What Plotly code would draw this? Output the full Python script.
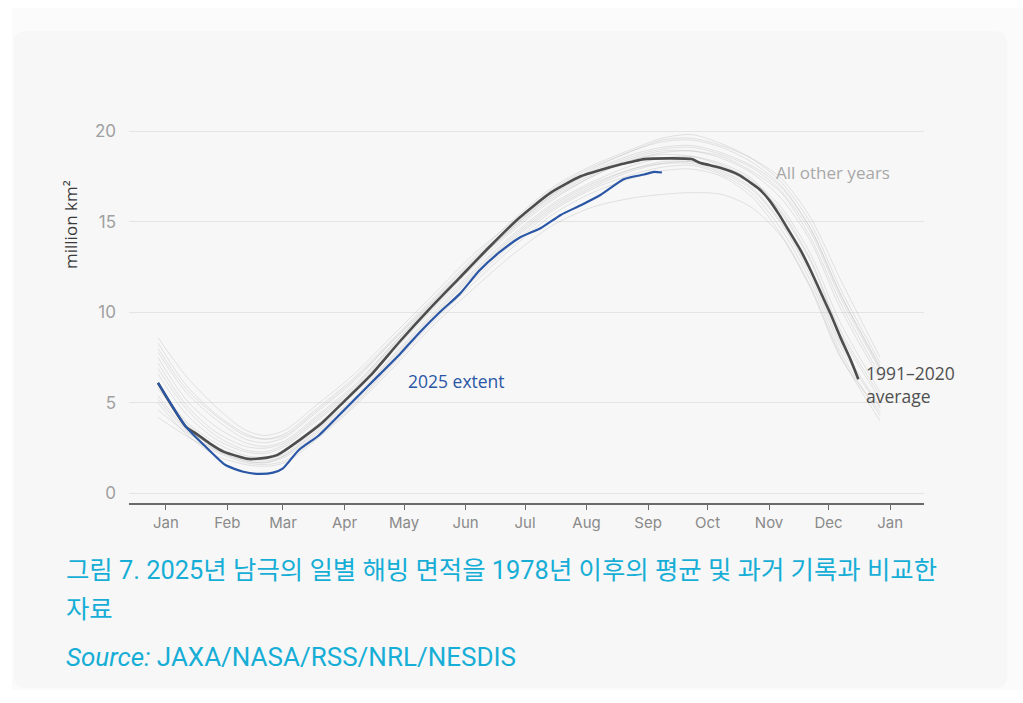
import plotly.graph_objects as go

# ---- data -------------------------------------------------------------
# Day-of-year sample points and extent in million km²
avg_days = [1, 15, 20, 27, 34, 42, 47, 51, 56, 61, 64, 73, 83, 95, 108, 123, 138, 153,
            168, 183, 199, 214, 224, 234, 240, 246, 270, 274, 279, 284, 294, 299, 304,
            309, 314, 319, 325, 330, 335, 340, 345, 350, 354]
avg_extent = [6.1, 3.69, 3.32, 2.77, 2.31, 2.03, 1.9, 1.92, 1.98, 2.12, 2.31, 3.0, 3.83,
              5.1, 6.5, 8.4, 10.2, 11.9, 13.6, 15.2, 16.6, 17.5, 17.85, 18.15, 18.3,
              18.45, 18.45, 18.25, 18.12, 17.98, 17.57, 17.2, 16.8, 16.2, 15.4, 14.5,
              13.4, 12.3, 11.1, 9.9, 8.6, 7.4, 6.3]

y2025_days = [1, 15, 25, 35, 44, 52, 59, 64, 72, 82, 93, 103, 113, 123, 133, 143, 153,
              163, 173, 183, 194, 204, 214, 224, 236, 246, 251, 255]
y2025_extent = [6.1, 3.69, 2.58, 1.57, 1.2, 1.08, 1.15, 1.39, 2.4, 3.2, 4.4, 5.5, 6.6,
                7.7, 8.9, 10.0, 11.0, 12.3, 13.3, 14.1, 14.65, 15.37, 15.9, 16.47,
                17.35, 17.6, 17.74, 17.71]

other_days = [1, 15, 30, 45, 55, 65, 80, 100, 120, 140, 160, 180, 200, 220, 240, 255,
              270, 285, 300, 315, 330, 345, 365]
other_years_extent = [
    [8.6, 6.5, 4.8, 3.5, 3.2, 3.5, 4.8, 6.6, 8.8, 11.0, 13.2, 15.0, 16.8, 18.0, 18.9, 19.5, 19.6, 19.2, 18.5, 17.4, 15.2, 11.8, 7.5],
    [7.8, 5.6, 4.1, 3.0, 2.8, 3.1, 4.4, 6.2, 8.5, 10.7, 12.9, 14.9, 16.6, 17.8, 18.7, 19.1, 19.2, 18.8, 18.1, 16.9, 14.6, 11.0, 6.9],
    [7.2, 4.9, 3.4, 2.6, 2.5, 2.8, 4.1, 5.9, 8.3, 10.5, 12.6, 14.7, 16.4, 17.6, 18.5, 18.9, 18.9, 18.5, 17.7, 16.3, 13.9, 10.2, 6.3],
    [6.6, 4.4, 3.0, 2.3, 2.2, 2.6, 3.9, 5.7, 8.1, 10.3, 12.5, 14.5, 16.2, 17.5, 18.4, 18.7, 18.6, 18.1, 17.3, 15.8, 13.2, 9.4, 5.6],
    [6.0, 4.0, 2.8, 2.1, 2.0, 2.4, 3.7, 5.5, 7.9, 10.2, 12.3, 14.3, 16.0, 17.2, 18.1, 18.5, 18.6, 18.2, 17.4, 15.5, 12.8, 8.8, 5.2],
    [5.4, 3.6, 2.5, 1.9, 1.8, 2.1, 3.4, 5.2, 7.6, 9.9, 12.1, 14.1, 15.8, 17.0, 17.9, 18.3, 18.3, 17.8, 16.9, 15.0, 12.2, 8.3, 4.8],
    [4.6, 3.4, 2.4, 1.8, 1.7, 2.0, 3.2, 5.0, 7.3, 9.7, 11.8, 13.8, 15.6, 16.8, 17.6, 18.0, 18.1, 17.6, 16.6, 14.6, 11.7, 7.8, 4.3],
    [4.2, 3.2, 2.3, 1.7, 1.6, 1.8, 3.0, 4.9, 7.2, 9.5, 11.6, 13.6, 15.4, 16.6, 17.4, 17.8, 17.9, 17.5, 16.4, 14.3, 11.4, 7.6, 4.0],
    [5.0, 3.3, 2.1, 1.6, 1.5, 1.7, 2.9, 4.8, 7.0, 9.3, 11.3, 13.2, 14.8, 15.8, 16.3, 16.5, 16.6, 16.5, 15.8, 14.2, 11.3, 7.5, 4.5],
    [6.9, 4.7, 3.2, 2.4, 2.3, 2.7, 4.0, 5.8, 8.2, 10.4, 12.7, 14.6, 16.3, 17.5, 18.4, 18.8, 18.9, 18.6, 17.8, 16.6, 14.1, 10.5, 6.5],
    [8.0, 5.8, 4.3, 3.2, 3.0, 3.3, 4.6, 6.4, 8.6, 10.8, 13.0, 15.1, 16.9, 18.1, 19.0, 19.6, 19.8, 19.3, 18.5, 17.2, 14.9, 11.3, 7.2],
    [5.8, 3.9, 2.6, 2.0, 1.9, 2.2, 3.5, 5.3, 7.7, 10.0, 12.2, 14.2, 15.9, 17.1, 17.9, 18.2, 18.2, 17.7, 16.8, 14.9, 12.0, 8.1, 4.7],
    [7.5, 5.2, 3.7, 2.8, 2.6, 2.9, 4.2, 6.0, 8.3, 10.6, 12.8, 14.8, 16.5, 17.7, 18.6, 19.0, 19.1, 18.7, 18.0, 16.7, 14.4, 10.8, 6.8],
    [5.2, 3.5, 2.4, 1.8, 1.7, 2.1, 3.3, 5.1, 7.5, 9.8, 12.0, 14.0, 15.7, 16.9, 17.8, 18.2, 18.3, 17.9, 17.1, 15.6, 12.9, 9.0, 5.4],
    [8.3, 6.0, 4.4, 3.3, 3.0, 3.2, 4.5, 6.3, 8.5, 10.6, 12.7, 14.7, 16.5, 17.9, 18.9, 19.4, 19.5, 19.1, 18.3, 17.0, 14.6, 11.0, 7.0],
]

month_labels = ["Jan", "Feb", "Mar", "Apr", "May", "Jun", "Jul", "Aug", "Sep", "Oct",
                "Nov", "Dec", "Jan"]
month_tick_days = [5, 36, 64, 95, 125, 156, 186, 217, 248, 278, 309, 339, 370]
y_ticks = [0, 5, 10, 15, 20]

# ---- layout geometry --------------------------------------------------
W, H = 1023, 703
ML, MR, MT, MB = 129, 99, 120, 200


def pxx(p):
    return (p - ML) / (W - ML - MR)


def pxy(p):
    return (H - MB - p) / (H - MT - MB)


fig = go.Figure()

for ext in other_years_extent:
    fig.add_trace(go.Scatter(
        x=other_days, y=ext, mode="lines",
        line=dict(color="rgba(185,185,185,0.42)", width=0.9, shape="spline", smoothing=0.8),
        hoverinfo="skip", showlegend=False))

fig.add_trace(go.Scatter(
    x=avg_days, y=avg_extent, mode="lines",
    line=dict(color="#4d4d4d", width=2.6, shape="spline", smoothing=0.6),
    name="1991–2020 average", showlegend=False))

fig.add_trace(go.Scatter(
    x=y2025_days, y=y2025_extent, mode="lines",
    line=dict(color="#2a56a6", width=2.2, shape="spline", smoothing=0.6),
    name="2025 extent", showlegend=False))


# background panels (outer faint box + rounded card)
def rounded_rect(x0, y0, x1, y1, r):
    X0, X1 = pxx(x0), pxx(x1)
    Y0, Y1 = pxy(y0), pxy(y1)
    rx = r / (W - ML - MR)
    ry = r / (H - MT - MB)
    return (f"M {X0+rx},{Y0} L {X1-rx},{Y0} Q {X1},{Y0} {X1},{Y0-ry} "
            f"L {X1},{Y1+ry} Q {X1},{Y1} {X1-rx},{Y1} L {X0+rx},{Y1} "
            f"Q {X0},{Y1} {X0},{Y1+ry} L {X0},{Y0-ry} Q {X0},{Y0} {X0+rx},{Y0} Z")


shapes = [
    dict(type="rect", xref="paper", yref="paper", x0=pxx(12), x1=pxx(1023),
         y0=pxy(8), y1=pxy(690), fillcolor="#fbfbfb", line=dict(width=0), layer="below"),
    dict(type="path", xref="paper", yref="paper", path=rounded_rect(14, 31, 1007, 688, 12),
         fillcolor="#f7f7f7", line=dict(width=0), layer="below"),
]

caption_font = "Roboto, Noto Sans CJK KR"
annotations = [
    dict(x=pxx(70), y=pxy(225), xref="paper", yref="paper", text="million km²",
         textangle=-90, xanchor="center", yanchor="middle", showarrow=False,
         font=dict(family="Open Sans", size=17, color="#3a3a3a")),
    dict(x=pxx(774), y=pxy(172), xref="paper", yref="paper", text="All other years",
         xanchor="left", yanchor="middle", showarrow=False,
         font=dict(family="Open Sans", size=17, color="#a8a8a8")),
    dict(x=pxx(406), y=pxy(381), xref="paper", yref="paper", text="2025 extent",
         xanchor="left", yanchor="middle", showarrow=False,
         font=dict(family="Open Sans", size=17.5, color="#2a56a6")),
    dict(x=pxx(864), y=pxy(384), xref="paper", yref="paper", text="1991–2020<br>average",
         xanchor="left", yanchor="middle", align="left", showarrow=False,
         font=dict(family="Open Sans", size=17.5, color="#505050")),
    dict(x=pxx(64), y=pxy(570), xref="paper", yref="paper",
         text="그림 7. 2025년 남극의 일별 해빙 면적을 1978년 이후의 평균 및 과거 기록과 비교한",
         xanchor="left", yanchor="middle", showarrow=False,
         font=dict(family=caption_font, size=25.4, color="#16aed6")),
    dict(x=pxx(64), y=pxy(609), xref="paper", yref="paper", text="자료",
         xanchor="left", yanchor="middle", showarrow=False,
         font=dict(family=caption_font, size=25.4, color="#16aed6")),
    dict(x=pxx(64), y=pxy(657), xref="paper", yref="paper",
         text="<i>Source:</i> JAXA/NASA/RSS/NRL/NESDIS",
         xanchor="left", yanchor="middle", showarrow=False,
         font=dict(family=caption_font, size=26, color="#16aed6")),
]

y_lo = -(H - MB - 493.5) / 18.125
y_hi = (493.5 - MT) / 18.125
x_lo = 1 + (ML - 158) / 1.984
x_hi = 1 + (W - MR - 158) / 1.984

fig.update_layout(
    width=W, height=H,
    margin=dict(l=ML, r=MR, t=MT, b=MB, pad=0),
    paper_bgcolor="#ffffff",
    plot_bgcolor="rgba(0,0,0,0)",
    shapes=shapes,
    annotations=annotations,
    showlegend=False,
    xaxis=dict(
        range=[x_lo, x_hi], tickmode="array", tickvals=month_tick_days, ticktext=month_labels,
        showgrid=False, zeroline=False, showline=True, linecolor="#6a6a6a", linewidth=1.5,
        ticks="outside", ticklen=5, tickcolor="#6a6a6a", tickwidth=1.2,
        tickfont=dict(family="Inter", size=15, color="#8a8a8a"),
    ),
    yaxis=dict(
        range=[y_lo, y_hi], tickmode="array", tickvals=y_ticks,
        showgrid=True, gridcolor="#e4e4e4", gridwidth=1, zeroline=False, showline=False,
        ticks="", ticklabelstandoff=12,
        tickfont=dict(family="Inter", size=17, color="#a0a0a0"),
    ),
)

fig.write_html("out.html")
